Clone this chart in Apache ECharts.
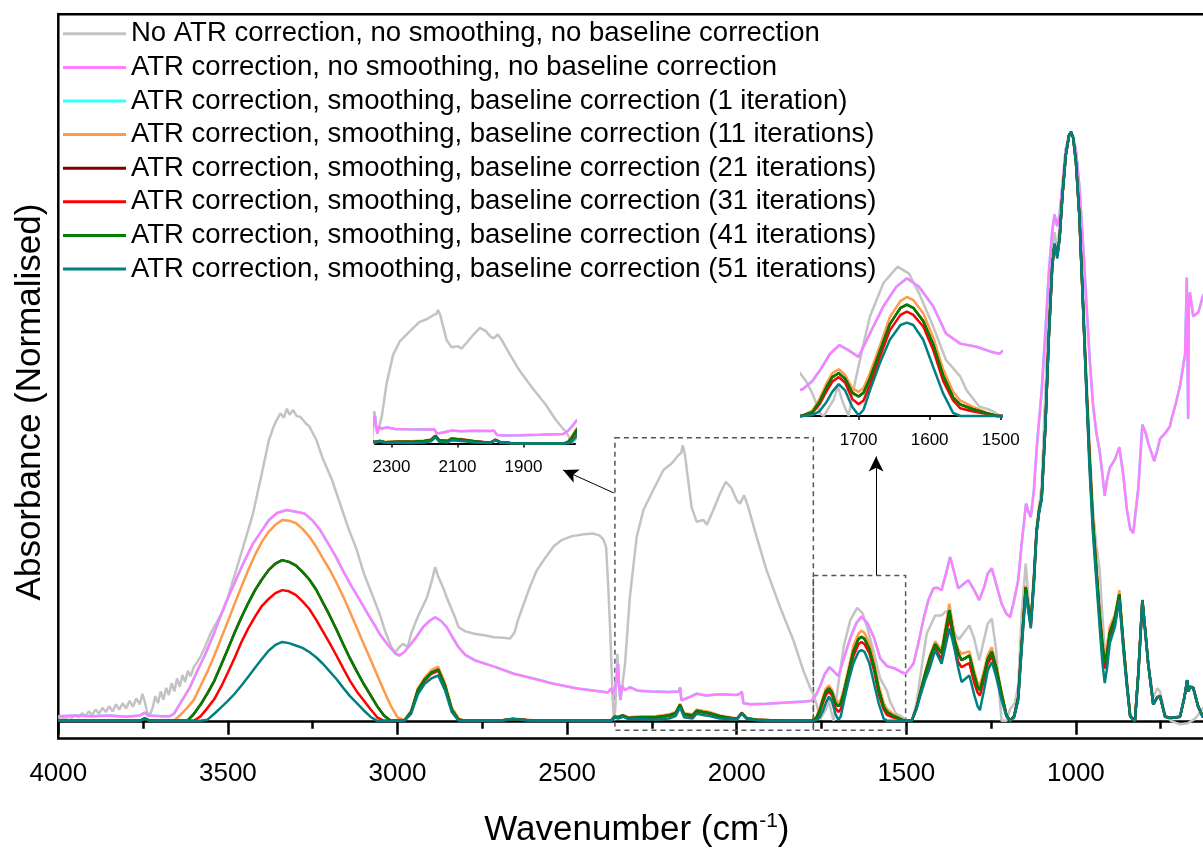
<!DOCTYPE html>
<html><head><meta charset="utf-8">
<script src="https://cdn.jsdelivr.net/npm/echarts@6/dist/echarts.min.js"></script>
<style>html,body{margin:0;padding:0;background:#fff}#c{width:1203px;height:850px}</style>
</head><body><div id="c"></div>
<script>
// ---- legend names / colours ----
const NAMES = [
  'No ATR correction, no smoothing, no baseline correction',
  'ATR correction, no smoothing, no baseline correction',
  'ATR correction, smoothing, baseline correction (1 iteration)',
  'ATR correction, smoothing, baseline correction (11 iterations)',
  'ATR correction, smoothing, baseline correction (21 iterations)',
  'ATR correction, smoothing, baseline correction (31 iterations)',
  'ATR correction, smoothing, baseline correction (41 iterations)',
  'ATR correction, smoothing, baseline correction (51 iterations)'
];
const COLORS = ['#c3c3c3','#ff80ff','#33ffff','#ff9a4a','#800000','#ff0000','#008000','#008080'];

// ---- x ticks ----
const MAIN_TICKS = [4000,3500,3000,2500,2000,1500,1000];
const INSET1_TICKS = [2300,2100,1900];
const INSET2_TICKS = [1700,1600,1500];

// ---- raw spectrum (grey) [wavenumber, absorbance] ----
const GREY = [[4000,.004],[3990,.006],[3980,.003],[3970,.008],[3960,.005],[3950,.010],[3940,.006],[3930,.013],[3920,.008],[3910,.016],[3900,.010],[3890,.019],[3880,.012],[3870,.022],[3860,.015],[3850,.025],[3840,.016],[3830,.028],[3820,.019],[3810,.030],[3800,.021],[3790,.034],[3780,.024],[3770,.038],[3760,.028],[3752,.046],[3745,.032],[3738,.014],[3730,.010],[3722,.022],[3714,.042],[3706,.030],[3698,.050],[3690,.036],[3682,.056],[3674,.044],[3666,.064],[3658,.050],[3650,.072],[3642,.058],[3634,.078],[3626,.066],[3618,.085],[3610,.076],[3600,.092],[3590,.100],[3580,.110],[3570,.122],[3550,.15],[3519,.182],[3500,.21],[3473,.261],[3450,.305],[3426,.352],[3400,.42],[3379,.477],[3365,.500],[3356,.511],[3345,.522],[3335,.515],[3326,.530],[3318,.520],[3308,.528],[3298,.518],[3286,.516],[3270,.505],[3260,.50],[3239,.477],[3220,.445],[3193,.409],[3170,.37],[3146,.329],[3120,.29],[3099,.25],[3075,.215],[3053,.182],[3035,.15],[3018,.125],[3006,.117],[2995,.125],[2983,.131],[2970,.125],[2960,.148],[2945,.170],[2936,.182],[2925,.195],[2913,.210],[2900,.235],[2889,.261],[2880,.245],[2866,.227],[2855,.21],[2843,.193],[2830,.175],[2820,.159],[2800,.152],[2773,.148],[2740,.145],[2715,.142],[2690,.141],[2668,.140],[2655,.150],[2645,.171],[2630,.195],[2610,.227],[2590,.255],[2563,.278],[2540,.296],[2516,.307],[2490,.313],[2470,.315],[2450,.317],[2423,.318],[2405,.315],[2393,.308],[2385,.295],[2378,.22],[2372,.14],[2366,.04],[2362,.001],[2358,.02],[2352,.114],[2347,.06],[2342,.04],[2335,.07],[2329,.098],[2315,.21],[2295,.312],[2275,.358],[2246,.392],[2216,.426],[2192,.437],[2172,.451],[2164,.455],[2159,.468],[2152,.45],[2147,.426],[2133,.363],[2118,.338],[2098,.341],[2088,.333],[2069,.358],[2049,.386],[2032,.406],[2015,.395],[2000,.375],[1990,.369],[1978,.383],[1966,.363],[1941,.312],[1912,.256],[1872,.193],[1833,.137],[1804,.086],[1784,.057],[1774,.045],[1765,.029],[1754,.003],[1749,0],[1735,.021],[1729,.038],[1722,.017],[1714,0],[1705,.043],[1695,.085],[1684,.128],[1665,.171],[1645,.192],[1629,.183],[1615,.158],[1595,.115],[1577,.072],[1557,.051],[1548,.033],[1530,.012],[1515,.008],[1500,0],[1484,0],[1470,.03],[1455,.09],[1440,.148],[1415,.179],[1396,.179],[1385,.185],[1373,.188],[1365,.17],[1357,.148],[1345,.138],[1330,.15],[1314,.162],[1300,.14],[1285,.103],[1270,.14],[1260,.165],[1248,.174],[1235,.12],[1225,.04],[1219,0],[1205,0],[1194,.02],[1180,.03],[1170,.06],[1160,.18],[1148,.267],[1140,.21],[1133,.17],[1124,.25],[1116,.33],[1101,.40],[1090,.56],[1080,.72],[1070,.80],[1063,.83],[1055,.80],[1048,.84],[1040,.90],[1030,.97],[1020,.995],[1014,1.0],[1008,.99],[1000,.96],[990,.88],[980,.75],[970,.60],[960,.47],[950,.36],[940,.30],[930,.257],[922,.18],[915,.12],[908,.13],[900,.155],[885,.18],[872,.21],[860,.13],[850,.07],[840,.01],[826,0],[816,.07],[804,.19],[795,.14],[787,.10],[772,.04],[760,.055],[752,.05],[737,.01],[720,0],[693,-.006],[670,-.004],[650,.003],[640,.01],[626,.021],[600,.03]];

// ---- ATR corrected (pink) ----
const PINK = [[4000,.008],[3950,.009],[3900,.008],[3850,.009],[3800,.007],[3760,.009],[3745,.014],[3735,.009],[3700,.008],[3671,.008],[3659,.012],[3640,.030],[3612,.057],[3590,.085],[3566,.114],[3540,.150],[3519,.182],[3495,.215],[3473,.244],[3450,.273],[3426,.301],[3400,.323],[3379,.341],[3355,.353],[3327,.358],[3300,.355],[3274,.352],[3250,.340],[3228,.324],[3205,.302],[3181,.278],[3158,.252],[3134,.227],[3110,.204],[3088,.182],[3070,.165],[3053,.148],[3030,.130],[3006,.114],[2994,.111],[2980,.117],[2960,.131],[2945,.142],[2925,.159],[2905,.170],[2889,.176],[2872,.170],[2855,.159],[2838,.142],[2820,.125],[2800,.112],[2773,.103],[2715,.092],[2657,.080],[2600,.072],[2540,.063],[2470,.055],[2400,.050],[2380,.048],[2370,.055],[2365,.045],[2358,.060],[2353,.075],[2350,.097],[2347,.062],[2343,.035],[2338,.060],[2330,.052],[2315,.057],[2290,.051],[2250,.050],[2200,.049],[2170,.050],[2167,.057],[2163,.035],[2140,.040],[2118,.046],[2090,.043],[2050,.045],[2000,.044],[1990,.046],[1985,.050],[1980,.030],[1960,.028],[1912,.029],[1850,.031],[1800,.033],[1779,.034],[1765,.045],[1754,.059],[1740,.080],[1727,.091],[1715,.085],[1700,.076],[1684,.106],[1665,.141],[1647,.166],[1632,.177],[1615,.166],[1595,.141],[1577,.106],[1557,.093],[1534,.089],[1515,.083],[1502,.080],[1479,.097],[1465,.130],[1450,.171],[1435,.205],[1420,.225],[1408,.226],[1396,.222],[1383,.250],[1371,.278],[1360,.255],[1347,.225],[1332,.232],[1317,.239],[1300,.222],[1285,.205],[1270,.228],[1260,.250],[1248,.259],[1235,.232],[1219,.199],[1205,.182],[1194,.176],[1182,.205],[1170,.239],[1160,.300],[1147,.369],[1140,.355],[1133,.346],[1124,.39],[1116,.46],[1101,.56],[1090,.66],[1080,.76],[1070,.83],[1063,.86],[1055,.84],[1048,.86],[1040,.91],[1030,.97],[1020,.995],[1014,1.0],[1008,.99],[1000,.97],[990,.91],[980,.82],[970,.72],[960,.62],[950,.54],[940,.49],[930,.458],[922,.42],[915,.382],[908,.41],[900,.430],[885,.444],[872,.465],[860,.416],[850,.36],[840,.326],[831,.319],[816,.395],[804,.503],[795,.49],[787,.472],[769,.441],[760,.46],[752,.479],[735,.49],[723,.500],[718,.513],[705,.54],[693,.569],[678,.624],[673,.753],[671,.62],[669,.513],[667,.70],[664,.728],[654,.687],[639,.694],[626,.721],[600,.75]];
// 1-iteration trace lies underneath the ATR-corrected trace in the picture
const CYAN = PINK.map(p => [p[0], p[1]]);

// ---- processed traces on a shared wavenumber grid ----
const WN_PROC = [
  4000,3900,3800,3760,3745,3730,3700,3680,3660,3640,3620,3600,3580,3560,3540,3520,3500,3480,3460,3440,3420,3400,3380,3360,3340,3320,3300,3280,3260,3240,3220,3200,3180,3160,3140,3120,3100,3080,3060,3040,3020,3000,
  2980,2960,2940,2920,2900,2880,2860,2840,2820,2800,
  2700,2660,2600,2500,2400,2370,2360,2350,2335,2320,2280,2240,2200,2180,2167,2155,2130,2118,2100,2080,2050,2020,2000,1985,1970,1940,1900,1850,1800,
  1780,1765,1755,1745,1737,1728,1719,1709,1700,1693,1684,1670,1656,1641,1632,1623,1609,1595,1581,1567,1557,1540,1521,1505,
  1484,1470,1460,1445,1430,1415,1405,1396,1385,1373,1365,1357,1347,1337,1325,1314,1300,1290,1283,1270,1260,1248,1235,1219,1205,1194,1182,1170,1160,1148,1140,1133,1124,1116,1108,1101,
  1090,1080,1070,1063,1055,1048,1040,1030,1020,1014,1008,1000,990,980,970,960,950,940,930,922,915,908,900,885,872,860,850,840,826,816,804,795,787,772,760,752,737,720,693,680,672,668,664,654,640,626,600
];
const TEAL = [
  0,0,0,0,.004,0,0,0,0,0,0,0,0,.002,.012,.023,.034,.046,.060,.075,.090,.105,.119,.129,.134,.132,.128,.124,.117,.108,.097,.084,.071,.056,.042,.030,.018,.007,0,0,0,0,
  0,.012,.045,.063,.072,.077,.052,.015,0,0,
  0,.003,0,0,0,0,.006,.004,.007,.003,.003,.002,.004,.008,.023,.006,.004,.012,.010,.008,.004,.003,.002,.012,.003,.001,0,0,0,
  0,.001,.006,.018,.031,.041,.033,.012,.001,.008,.033,.068,.098,.117,.120,.117,.098,.063,.029,.004,0,0,0,0,
  0,.020,.040,.068,.091,.120,.108,.097,.125,.157,.140,.120,.090,.066,.072,.077,.045,.025,.018,.055,.085,.100,.075,.035,.008,0,.006,.035,.120,.216,.185,.157,.230,.318,.355,.375,
  .50,.65,.77,.81,.785,.82,.89,.96,.995,1.0,.99,.95,.86,.72,.57,.43,.32,.24,.16,.10,.064,.09,.132,.16,.205,.12,.06,.007,0,.08,.205,.15,.097,.028,.040,.042,.007,.005,.007,.040,.069,.050,.058,.056,.025,.007,.005
];
const RED = [
  0,0,0,0,.004,0,0,0,0,0,0,0,.008,.022,.037,.058,.082,.107,.134,.157,.177,.195,.207,.217,.222,.220,.214,.203,.190,.172,.152,.132,.111,.089,.068,.050,.035,.020,.006,0,0,0,
  0,.014,.050,.068,.080,.085,.058,.018,.002,0,
  0,.003,0,0,0,0,.006,.005,.008,.004,.005,.005,.008,.012,.026,.010,.008,.016,.014,.012,.007,.005,.003,.013,.004,.002,0,0,0,
  0,.004,.015,.032,.044,.050,.043,.022,.015,.020,.040,.076,.110,.130,.134,.130,.115,.085,.045,.020,.010,.006,.003,0,
  0,.021,.043,.073,.100,.125,.113,.105,.140,.176,.150,.125,.100,.091,.095,.098,.065,.048,.043,.072,.097,.110,.084,.040,.009,0,.007,.038,.125,.222,.188,.160,.234,.320,.358,.377,
  .50,.65,.77,.81,.79,.82,.89,.96,.995,1.0,.99,.95,.86,.72,.575,.44,.33,.25,.17,.115,.089,.105,.142,.168,.21,.125,.062,.008,0,.08,.205,.15,.097,.028,.040,.042,.007,.005,.007,.040,.069,.050,.058,.056,.025,.007,.005
];
const GREEN = [
  0,0,0,0,.004,0,0,0,0,0,0,.012,.028,.047,.068,.095,.122,.150,.176,.200,.222,.240,.256,.267,.273,.270,.264,.253,.240,.223,.201,.179,.155,.130,.106,.084,.063,.044,.025,.009,0,0,
  0,.015,.052,.070,.082,.087,.060,.019,.002,0,
  0,.003,0,0,0,.001,.007,.006,.009,.005,.006,.006,.009,.013,.027,.011,.009,.017,.015,.013,.008,.005,.003,.013,.004,.002,.001,0,0,
  0,.005,.018,.037,.050,.055,.048,.030,.025,.030,.048,.083,.118,.139,.143,.139,.122,.092,.052,.024,.015,.009,.004,0,
  0,.022,.045,.078,.108,.130,.122,.115,.150,.188,.160,.135,.115,.103,.107,.111,.078,.058,.052,.080,.105,.117,.090,.045,.010,0,.008,.040,.130,.227,.192,.165,.238,.322,.360,.378,
  .50,.65,.77,.81,.79,.82,.89,.96,.995,1.0,.99,.95,.86,.72,.58,.45,.34,.26,.18,.13,.098,.115,.15,.175,.215,.13,.065,.008,0,.08,.205,.15,.098,.028,.040,.042,.007,.005,.007,.040,.069,.050,.058,.056,.025,.007,.005
];
const ORANGE = [
  0,0,0,0,.004,0,0,0,0,.010,.022,.036,.060,.084,.111,.140,.169,.199,.228,.256,.282,.304,.321,.333,.341,.340,.336,.326,.313,.296,.276,.257,.235,.211,.185,.158,.131,.105,.078,.051,.026,.006,
  .001,.017,.055,.073,.086,.092,.064,.023,.004,0,
  0,.004,.001,0,0,.001,.008,.007,.010,.006,.008,.008,.011,.015,.029,.013,.011,.019,.017,.015,.009,.006,.004,.014,.005,.002,.001,0,0,
  0,.007,.022,.042,.055,.060,.053,.036,.031,.036,.055,.090,.127,.148,.153,.149,.132,.101,.060,.031,.020,.012,.005,0,
  0,.023,.048,.082,.112,.135,.127,.120,.158,.199,.170,.140,.122,.114,.116,.118,.085,.065,.060,.088,.112,.125,.096,.050,.012,0,.009,.042,.133,.230,.195,.168,.240,.324,.362,.379,
  .50,.65,.77,.81,.79,.82,.89,.96,.995,1.0,.99,.95,.86,.72,.585,.46,.35,.27,.19,.14,.108,.125,.16,.18,.222,.135,.068,.009,0,.08,.206,.152,.099,.029,.041,.043,.008,.005,.007,.041,.070,.051,.059,.057,.026,.008,.005
];
// 21-iteration trace is hidden beneath the 41-iteration trace in the picture
const DARKRED = GREEN.slice();

// ---- annotation boxes / arrows (data coordinates) ----
const BOX1 = [2359, 1774, -0.016, 0.481];
const BOX2 = [1774, 1502, -0.016, 0.247];
const ARROW1 = [[2362, 0.387], [2512, 0.426]];
const ARROW2 = [[1589, 0.247], [1589, 0.449]];

function pairs(xs, ys) { return xs.map((x, i) => [x, ys[i]]); }
const DATA = [GREY, PINK, CYAN, pairs(WN_PROC, ORANGE), pairs(WN_PROC, DARKRED), pairs(WN_PROC, RED), pairs(WN_PROC, GREEN), pairs(WN_PROC, TEAL)];
const DRAW_ORDER = [0, 2, 1, 3, 4, 5, 6, 7];

const FONT = 'Liberation Sans, Arial, sans-serif';
const plain = v => String(v);
const series = [];
[0, 1, 2].forEach(g => {
  DRAW_ORDER.forEach((k, j) => {
    series.push({
      type: 'line', name: NAMES[k], data: DATA[k], xAxisIndex: g, yAxisIndex: g,
      showSymbol: false, symbol: 'none', color: COLORS[k],
      lineStyle: { width: 2.5, color: COLORS[k] }, clip: true, z: 2 + j, silent: true
    });
  });
});
// annotations on the main grid
series.push({
  type: 'line', data: [], xAxisIndex: 0, yAxisIndex: 0, silent: true,
  markArea: {
    silent: true,
    itemStyle: { color: 'rgba(0,0,0,0)', borderColor: '#555', borderWidth: 1.5, borderType: [5, 4] },
    data: [
      [{ xAxis: BOX1[0], yAxis: BOX1[3] }, { xAxis: BOX1[1], yAxis: BOX1[2] }],
      [{ xAxis: BOX2[0], yAxis: BOX2[3] }, { xAxis: BOX2[1], yAxis: BOX2[2] }]
    ]
  },
  markLine: {
    silent: true, symbol: ['none', 'arrow'], symbolSize: [11, 15],
    lineStyle: { color: '#000', width: 1, type: 'solid' }, label: { show: false },
    data: [
      [{ coord: ARROW1[0] }, { coord: ARROW1[1] }],
      [{ coord: ARROW2[0] }, { coord: ARROW2[1] }]
    ]
  }
});

const option = {
  animation: false,
  backgroundColor: '#fff',
  legend: {
    orient: 'vertical', left: 63, top: 17, padding: 0, itemWidth: 63, itemHeight: 3, itemGap: 0,
    icon: 'rect', data: NAMES, selectedMode: false,
    textStyle: { fontFamily: FONT, fontSize: 27.5, color: '#000', lineHeight: 33.6 }
  },
  grid: [
    { left: 58.3, top: 14.3, width: 1187.2, height: 724.2, show: true, borderColor: '#000', borderWidth: 2.5, backgroundColor: 'transparent', outerBoundsMode: 'none', containLabel: false },
    { left: 375, top: 301, width: 200, height: 150, outerBoundsMode: 'none', containLabel: false },
    { left: 801.7, top: 260.4, width: 199, height: 163.6, outerBoundsMode: 'none', containLabel: false }
  ],
  xAxis: [
    { type: 'value', gridIndex: 0, inverse: true, min: 500, max: 4000, interval: 500,
      axisLine: { show: true, lineStyle: { color: '#000', width: 2.5 } },
      axisTick: { show: true, inside: false, length: 14, lineStyle: { width: 2.5, color: '#000' } },
      minorTick: { show: true, splitNumber: 2, length: 8, lineStyle: { width: 2.5, color: '#000' } },
      splitLine: { show: false },
      axisLabel: { fontFamily: FONT, fontSize: 26, color: '#000', margin: 22, customValues: MAIN_TICKS, formatter: plain },
      name: '{a|Wavenumber (cm}{s|-1}{a|)}', nameLocation: 'middle', nameGap: 72,
      nameTextStyle: { padding: [0, 30, 0, 0], rich: {
        a: { fontFamily: FONT, fontSize: 35, color: '#000', lineHeight: 40, verticalAlign: 'middle' },
        s: { fontFamily: FONT, fontSize: 21, color: '#000', lineHeight: 21, verticalAlign: 'top' } } }
    },
    { type: 'value', gridIndex: 1, inverse: true, min: 1744, max: 2350,
      axisLine: { show: true, lineStyle: { color: '#000', width: 2 } },
      axisTick: { show: true, length: 4, lineStyle: { width: 1.5, color: '#000' }, customValues: INSET1_TICKS },
      splitLine: { show: false },
      axisLabel: { fontFamily: FONT, fontSize: 17, color: '#000', margin: 8, customValues: INSET1_TICKS, formatter: plain }
    },
    { type: 'value', gridIndex: 2, inverse: true, min: 1500, max: 1780, interval: 100,
      axisLine: { show: true, lineStyle: { color: '#000', width: 2 } },
      axisTick: { show: true, length: 4, lineStyle: { width: 1.5, color: '#000' }, customValues: INSET2_TICKS },
      splitLine: { show: false },
      axisLabel: { fontFamily: FONT, fontSize: 17, color: '#000', margin: 8, customValues: INSET2_TICKS, formatter: plain }
    }
  ],
  yAxis: [
    { type: 'value', gridIndex: 0, min: -0.03, max: 1.2, show: true, axisLine: { show: false }, axisTick: { show: false }, axisLabel: { show: false }, splitLine: { show: false } },
    { type: 'value', gridIndex: 1, min: -0.026, max: 0.5, show: false, splitLine: { show: false } },
    { type: 'value', gridIndex: 2, min: -0.0103, max: 0.2, show: false, splitLine: { show: false } }
  ],
  graphic: [
    { type: 'text', x: 30, y: 402, rotation: Math.PI / 2, silent: true,
      style: { text: 'Absorbance (Normalised)', fontFamily: FONT, fontSize: 35, fill: '#000', textAlign: 'center', textVerticalAlign: 'middle' } }
  ],
  series: series
};
const chart = echarts.init(document.getElementById('c'), null, { renderer: 'canvas' });
chart.setOption(option);
</script>
</body></html>
